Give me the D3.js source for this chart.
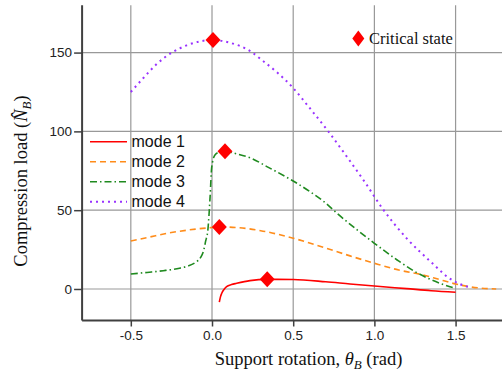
<!DOCTYPE html>
<html><head><meta charset="utf-8">
<script src="https://cdn.jsdelivr.net/npm/d3@7"></script>
<style>body{margin:0;background:#fff}svg{display:block}</style>
</head><body><svg id="c" width="502" height="373"></svg>
<script>
const xTicks = [-0.5, 0.0, 0.5, 1.0, 1.5];
const yTicks = [0, 50, 100, 150];
const seriesNames = ["mode 1", "mode 2", "mode 3", "mode 4"];
const mode1 = [[0.045,-8.4],[0.052,-5],[0.06,-2.7],[0.075,-0.2],[0.09,1.5],[0.12,2.8],[0.152,3.6],[0.234,5.3],[0.34,6.1],[0.5,6.0],[0.7,4.6],[0.85,3.2],[1.0,1.9],[1.2,0.2],[1.35,-1.1],[1.5,-2.1]];
const mode2 = [[-0.5,30.5],[-0.4,32.6],[-0.25,35.8],[-0.1,38],[0,39],[0.045,39.4],[0.15,39],[0.3,37],[0.5,32.2],[0.7,26],[0.85,21],[1.0,16.3],[1.15,12],[1.3,8.9],[1.4,6],[1.5,3.2],[1.6,1.2],[1.75,0]];
const mode3 = [[-0.5,9.5],[-0.4,10.5],[-0.3,11.6],[-0.2,13.2],[-0.15,14.5],[-0.1,17],[-0.07,20],[-0.05,25],[-0.04,30],[-0.025,38],[-0.012,58],[-0.002,77],[0.018,85],[0.05,87],[0.08,87.3],[0.15,85.8],[0.24,83],[0.35,77],[0.5,68.5],[0.6,62],[0.7,54.5],[0.77,48],[0.9,37],[1.0,29],[1.14,18.4],[1.25,11],[1.33,6.8],[1.42,3],[1.5,0.4]];
const mode4 = [[-0.5,125],[-0.424,133.7],[-0.34,142.8],[-0.24,150.4],[-0.156,154.6],[-0.07,157.2],[0.006,158],[0.1,156.5],[0.24,150.6],[0.31,145],[0.4,137.5],[0.5,127.5],[0.6,115],[0.716,100],[0.83,84],[0.94,68],[1.05,51],[1.2,32],[1.35,17],[1.47,6.2],[1.55,2.2],[1.6,0.8]];
const criticalPoints = [[0.34,6.2],[0.045,39.4],[0.08,87.4],[0.006,158]];

const svg = d3.select("#c");
const x = d3.scaleLinear().domain([-0.8, 1.8]).range([82.1, 504.3]);
const y = d3.scaleLinear().domain([-20, 180]).range([320.5, 5.3]);

// grid
svg.append("g").selectAll("line").data(xTicks).join("line")
  .attr("x1", d => x(d)).attr("x2", d => x(d)).attr("y1", y(180)).attr("y2", y(-20))
  .attr("stroke", "#999").attr("stroke-width", 1.2);
svg.append("g").selectAll("line").data(yTicks).join("line")
  .attr("y1", d => y(d)).attr("y2", d => y(d)).attr("x1", x(-0.8)).attr("x2", 502)
  .attr("stroke", "#999").attr("stroke-width", 1.2);

// axes
const fmtX = d => d3.format(".1f")(d).replace("\u2212", "-");
const ax = svg.append("g").attr("transform", `translate(0,${y(-20)})`)
  .call(d3.axisBottom(x).tickValues(xTicks).tickFormat(fmtX).tickSize(6).tickPadding(4));
const ay = svg.append("g").attr("transform", `translate(${x(-0.8)},0)`)
  .call(d3.axisLeft(y).tickValues(yTicks).tickSize(8).tickPadding(2));
[ax, ay].forEach(a => {
  a.select(".domain").attr("stroke", "#404040").attr("stroke-width", 2);
  a.selectAll(".tick line").attr("stroke", "#404040").attr("stroke-width", 1.5);
  a.selectAll("text").attr("font-family", "'Liberation Sans', Arial, sans-serif").attr("font-size", 13.5).attr("fill", "#222");
});
ax.select(".domain").attr("d", `M${x(-0.8)},0H502`);
ay.select(".domain").attr("d", `M0,${y(180)}V${y(-20)}`);

const styles = [
  {color: "#ff0000", dash: null, w: 1.6},
  {color: "#ff8c1a", dash: "6,4", w: 1.6},
  {color: "#1f8a1f", dash: "7,3,1.5,3", w: 1.6},
  {color: "#9933ff", dash: "2,4", w: 2}
];
const line = d3.line().x(d => x(d[0])).y(d => y(d[1])).curve(d3.curveMonotoneX);
[mode1, mode2, mode3, mode4].forEach((data, i) => {
  svg.append("path").datum(data).attr("d", line).attr("fill", "none")
    .attr("stroke", styles[i].color).attr("stroke-width", styles[i].w)
    .attr("stroke-dasharray", styles[i].dash);
});

const diamond = (cx, cy, hw, hh) => `M${cx},${cy-hh}L${cx+hw},${cy}L${cx},${cy+hh}L${cx-hw},${cy}Z`;
svg.append("g").selectAll("path").data(criticalPoints).join("path")
  .attr("d", d => diamond(x(d[0]), y(d[1]), 7.5, 8)).attr("fill", "#ff0000");

// legend
const lg = svg.append("g");
seriesNames.forEach((n, i) => {
  const yy = 141.7 + i * 20;
  lg.append("line").attr("x1", 90).attr("x2", 127).attr("y1", yy).attr("y2", yy)
    .attr("stroke", styles[i].color).attr("stroke-width", styles[i].w).attr("stroke-dasharray", styles[i].dash);
  lg.append("text").attr("x", 131.5).attr("y", yy + 5.5).text(n)
    .attr("font-family", "'Liberation Sans', Arial, sans-serif").attr("font-size", 16).attr("fill", "#111");
});
svg.append("path").attr("d", diamond(358.3, 38.5, 6, 8)).attr("fill", "#ff0000");
svg.append("text").attr("x", 369).attr("y", 43.5).text("Critical state")
  .attr("font-family", "'Liberation Serif', 'Times New Roman', serif").attr("font-size", 16.5).attr("fill", "#111");

// axis labels
const xl = svg.append("text").attr("x", 308.5).attr("y", 365).attr("text-anchor", "middle")
  .attr("font-family", "'Liberation Serif', 'Times New Roman', serif").attr("font-size", 18.5).attr("fill", "#111");
xl.append("tspan").text("Support rotation, ");
xl.append("tspan").attr("font-style", "italic").text("θ");
xl.append("tspan").attr("font-style", "italic").attr("font-size", 13).attr("dy", 4).text("B");
xl.append("tspan").attr("dy", -4).text(" (rad)");

const yl = svg.append("text").attr("transform", "translate(27,181) rotate(-90)").attr("text-anchor", "middle")
  .attr("font-family", "'Liberation Serif', 'Times New Roman', serif").attr("font-size", 18.5).attr("fill", "#111");
yl.append("tspan").text("Compression load (");
yl.append("tspan").attr("font-style", "italic").text("N\u0302");
yl.append("tspan").attr("font-style", "italic").attr("font-size", 13).attr("dy", 4).text("B");
yl.append("tspan").attr("dy", -4).text(")");
</script></body></html>
